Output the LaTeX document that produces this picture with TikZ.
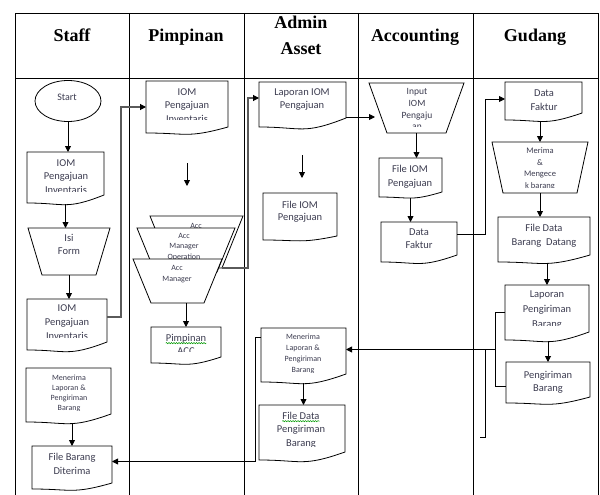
\documentclass[tikz,border=0pt]{standalone}
\usepackage{fontspec}
\setmainfont{Liberation Serif}
\newfontfamily\bodyf{Carlito}
\usetikzlibrary{arrows.meta,fit,calc,shapes.geometric,decorations.pathmorphing}
\definecolor{txtc}{HTML}{3C3C50}
\definecolor{conn}{HTML}{5A5A5A}
\tikzset{
 shp/.style={draw=black, line width=0.8pt, fill=white},
 bx/.style={inner sep=0pt, outer sep=0pt},
 arr/.style={line width=0.9pt, -{Triangle[length=6pt,width=6pt]}},
 garr/.style={line width=1.1pt, draw=conn, arrows={-{Triangle[length=6pt,width=6pt,color=black]}}},
 ln/.style={line width=0.9pt},
 txt/.style={text=txtc, inner sep=0pt},
 hdr/.style={font=\fontsize{18}{20}\selectfont\bfseries, inner sep=0pt, anchor=base},
 lane/.style={line width=0.9pt},
 squig/.style={draw=green!60!black, line width=0.5pt, decorate, decoration={snake, amplitude=0.6pt, segment length=2.5pt}},
}
\newcommand\mkbox[5]{\node[bx, fit={(#2,#3) (#4,#5)}] (#1) {};}
\newcommand\docshape[2]{\draw[shp] (#1.south west) -- (#1.north west) -- (#1.north east) -- ([yshift=#2pt]#1.south east) .. controls ([yshift=-0.9*#2pt]#1.south) and (#1.south) .. (#1.south west) -- cycle;}
\newcommand\trapshape[2]{\draw[shp] (#1.north west) -- (#1.north east) -- ([xshift=-#2pt]#1.south east) -- ([xshift=#2pt]#1.south west) -- cycle;}
\newcommand\tlines[6]{\foreach \t [count=\i] in {#6}{\node[txt, anchor=base, font=\bodyf\fontsize{#5}{#5}\selectfont] (#1-\i) at ({#2},{#3+(\i-1)*#4+0.3*#5}) {\t};}}
\begin{document}
\begin{tikzpicture}[x=1pt,y=-1pt]
\useasboundingbox (0,0) rectangle (600,495);
% swimlane table
\draw[lane] (15,495) -- (15,13) -- (598,13) -- (598,495);
\draw[lane] (15,78) -- (598,78);
\foreach \xx in {129,244,358,473} \draw[lane] (\xx,13) -- (\xx,495);
\node[hdr] (hStaff) at (72,42) {Staff};
\node[hdr] (hPim) at (186,42) {Pimpinan};
\node[hdr] (hAdm1) at (301,29) {Admin};
\node[hdr] (hAdm2) at (301,55) {Asset};
\node[hdr] (hAcc) at (415,42) {Accounting};
\node[hdr] (hGud) at (535,42) {Gudang};

% ---------- Staff ----------
\node[shp, bx, ellipse, minimum width=66pt, minimum height=41pt] (Start) at (68,101) {};
\tlines{Startt}{67}{97}{0}{10}{Start}
\mkbox{D1}{27}{152}{104}{203}\docshape{D1}{8}
\begin{scope}\clip (27,152) rectangle (104,191);
\tlines{D1t}{66}{163}{13.5}{10.5}{IOM,Pengajuan,Inventaris}\end{scope}
\mkbox{IF}{28}{228}{110}{275}\trapshape{IF}{14}
\tlines{IFt}{69}{238}{13.5}{10.5}{Isi,Form}
\mkbox{D2}{27}{299}{107}{350}\docshape{D2}{8}
\begin{scope}\clip (27,299) rectangle (107,337);
\tlines{D2t}{67}{308}{14}{10.5}{IOM,Pengajuan,Inventaris}\end{scope}
\mkbox{D3}{26}{368}{111}{422}\docshape{D3}{8}
\begin{scope}\clip (26,368) rectangle (111,410);
\tlines{D3t}{69}{378}{10}{8}{Menerima,Laporan \&,Pengiriman,Barang}\end{scope}
\mkbox{D4}{32}{446}{112}{489}\docshape{D4}{6}
\tlines{D4t}{72}{457}{14}{10.5}{File Barang,Diterima}

% ---------- Pimpinan ----------
\mkbox{P1}{146}{81}{228}{133}\docshape{P1}{6}
\begin{scope}\clip (146,81) rectangle (228,119);
\tlines{P1t}{187}{92}{13.5}{10.5}{IOM,Pengajuan,Inventaris}\end{scope}
\mkbox{SB}{150}{216}{243}{268}\trapshape{SB}{21}
\tlines{SBt}{196}{226}{11}{8}{Acc}
\mkbox{SM}{137}{228}{235}{272}\trapshape{SM}{18}
\tlines{SMt}{184}{236}{10.5}{8}{Acc,Manager,Operation}
\mkbox{SF}{133}{259}{222}{303}\trapshape{SF}{18}
\tlines{SFt}{177}{268}{11}{8}{Acc,Manager}
\mkbox{P2}{151}{327}{221}{363}\docshape{P2}{6}
\begin{scope}\clip (151,327) rectangle (221,351);
\tlines{P2t}{186}{338}{13}{10.5}{Pimpinan,ACC}\end{scope}
\draw[squig] ([yshift=-2pt]P2t-1.base west) -- ([yshift=-2pt]P2t-1.base east);

% ---------- Admin Asset ----------
\mkbox{A1}{259}{82}{346}{127}\docshape{A1}{9}
\tlines{A1t}{302}{92}{13}{10.5}{Laporan IOM,Pengajuan}
\mkbox{A2}{263}{193}{337}{240}\docshape{A2}{4}
\tlines{A2t}{300}{205}{12.5}{10.5}{File IOM,Pengajuan}
\mkbox{A3}{261}{328}{346}{382}\docshape{A3}{8}
\begin{scope}\clip (261,328) rectangle (346,372);
\tlines{A3t}{303}{337}{11}{8}{Menerima,Laporan \&,Pengiriman,Barang}\end{scope}
\mkbox{A4}{259}{405}{345}{460}\docshape{A4}{8}
\begin{scope}\clip (259,405) rectangle (345,446);
\tlines{A4t}{301}{416}{13.5}{10.5}{File Data,Pengiriman,Barang}\end{scope}
\draw[squig] ([yshift=-2pt]A4t-1.base west) -- ([yshift=-2pt]A4t-1.base east);

% ---------- Accounting ----------
\mkbox{C1}{369}{83}{464}{133}\trapshape{C1}{18}
\begin{scope}\clip (369,83) rectangle (464,126);
\tlines{C1t}{417}{92}{11.7}{9.5}{Input,IOM,Pengaju,an}\end{scope}
\mkbox{C2}{379}{158}{442}{197}\docshape{C2}{5}
\tlines{C2t}{410}{169}{14}{10.5}{File IOM,Pengajuan}
\mkbox{C3}{381}{222}{457}{262}\docshape{C3}{7}
\tlines{C3t}{419}{232}{13}{10.5}{Data,Faktur}

% ---------- Gudang ----------
\mkbox{G1}{505}{82}{582}{120}\docshape{G1}{7}
\tlines{G1t}{544}{93}{14}{10.5}{Data,Faktur}
\mkbox{G2}{492}{142}{588}{193}\trapshape{G2}{11}
\begin{scope}\clip (492,142) rectangle (588,187);
\tlines{G2t}{540}{151}{11.7}{8.5}{Merima,\&,Mengece,k barang}\end{scope}
\mkbox{G3}{498}{217}{590}{262}\docshape{G3}{7}
\tlines{G3t}{544}{228}{14}{10.5}{File Data,Barang\ \ Datang}
\mkbox{G4}{505}{285}{589}{340}\docshape{G4}{8}
\begin{scope}\clip (505,285) rectangle (589,325);
\tlines{G4t}{547}{294}{15}{10.5}{Laporan,Pengiriman,Barang}\end{scope}
\mkbox{G5}{506}{362}{590}{403}\docshape{G5}{6}
\tlines{G5t}{548}{375}{13}{10.5}{Pengiriman,Barang}

% ---------- connectors ----------
\draw[arr] (Start.south) -- (Start.south |- D1.north);
\draw[arr] ([yshift=-1pt]D1.south) -- (D1.south |- IF.north);
\draw[arr] (IF.south) -- (IF.south |- D2.north);
\draw[arr] ([yshift=-1pt]D4.north |- D3.south) -- (D4.north);
\coordinate (f1) at (187,163); \coordinate (f2) at (187,186);
\draw[arr] (f1) -- (f2);
\draw[arr] (P2.north |- SF.south) -- (P2.north);
\coordinate (f3) at (302,155); \coordinate (f4) at (302,178);
\draw[arr] (f3) -- (f4);
\draw[arr] (C1.south) -- (C1.south |- C2.north);
\draw[arr] ([yshift=-1pt]C2.south) -- (C2.south |- C3.north);
\draw[arr] ([yshift=-1pt]G2.north |- G1.south) -- (G2.north);
\draw[arr] (G2.south) -- (G2.south |- G3.north);
\draw[arr] ([yshift=-1pt]G4.north |- G3.south) -- (G4.north);
\draw[arr] ([yshift=-1pt]G5.north |- G4.south) -- (G5.north);
\draw[arr] ([yshift=-1pt]A3.south) -- (A3.south |- A4.north);

\draw[garr] ([yshift=-18pt]D2.north east) -- ++(14,0) |- (P1.west);
\draw[garr] ([xshift=-21pt]SB.south east) -- ++(26,0) |- ([yshift=-16pt]A1.north west);
\coordinate (c1in) at ([xshift=6pt]C1.north west);
\coordinate (A1out) at ([yshift=10pt]A1.south east);
\draw[arr] (A1out) -- (c1in |- A1out);
\coordinate (C3out) at ([yshift=-12pt]C3.north east);
\draw[arr] (C3out) -- ++(28,0) |- ([yshift=2pt]G1.west);
\coordinate (bk1) at ([xshift=-10pt]G4.west);
\coordinate (bk2) at ([yshift=-4pt]G5.west -| bk1);
\draw[ln] (G4.west) -- (bk1) -- (bk2) -- ([yshift=-4pt]G5.west);
\coordinate (bkm) at ($(bk1)!0.5!(bk2)$);
\draw[arr] (bkm) -- (bkm -| A3.east);
\coordinate (v1) at ([xshift=-10pt]bkm);
\coordinate (v2) at ([yshift=-88pt]v1);
\draw[ln] (v1) -- (v2) -- ++(-5,0);
\coordinate (A3out) at ([yshift=-9pt]A3.north west);
\draw[arr] (A3out) -- ++(-6,0) |- ([yshift=6pt]D4.east);
\end{tikzpicture}
\end{document}
